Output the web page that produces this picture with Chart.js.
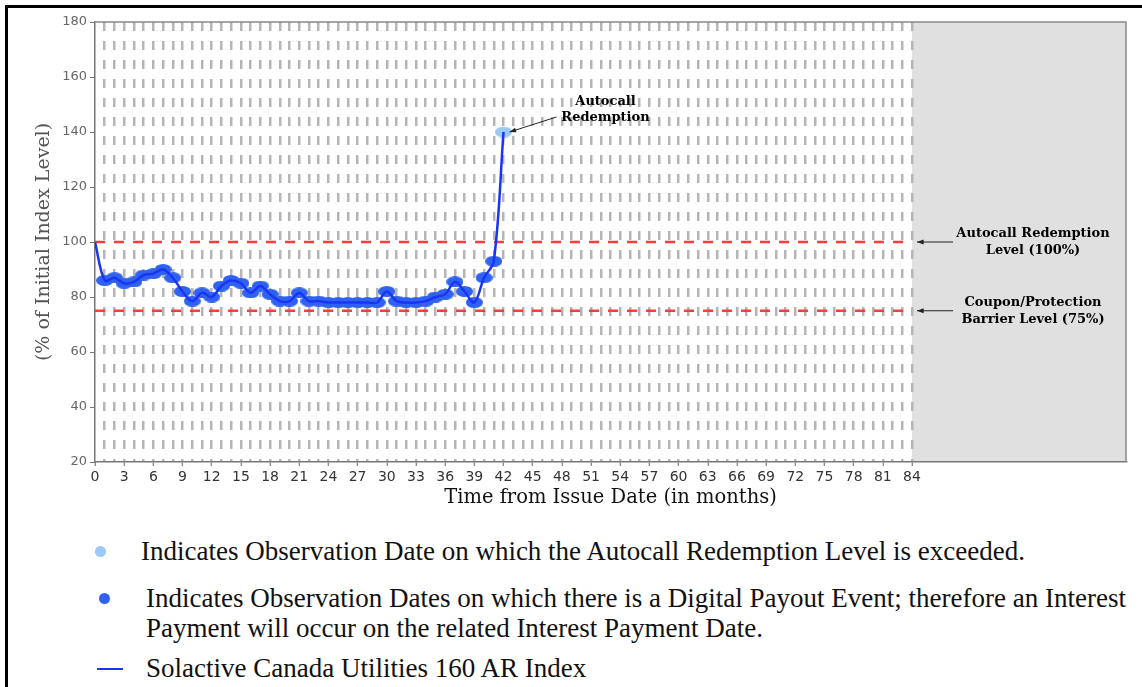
<!DOCTYPE html>
<html>
<head>
<meta charset="utf-8">
<script src="https://cdn.jsdelivr.net/npm/chart.js@4.4.0/dist/chart.umd.min.js"></script>
<style>
    body { margin: 0; background: #fff; width: 1142px; height: 687px; overflow: hidden; position: relative; }
    #frame { position: absolute; left: 5px; top: 5px; right: 0; bottom: 0; border-left: 3px solid #000; border-top: 3px solid #000; }
    #chartBox { position: absolute; left: 0; top: 0; width: 1142px; height: 520px; }
    .legRow { position: absolute; font-family: "Liberation Serif", "Times New Roman", serif; font-size: 27px; color: #111; line-height: 30px; white-space: nowrap; }
    .dot { position: absolute; width: 11px; height: 11px; border-radius: 50%; }
    .seg { position: absolute; width: 26px; height: 2px; background: #1a34f5; }
</style>
</head>
<body>
<div id="frame"></div>
<div id="chartBox"><canvas id="myChart" width="1142" height="520"></canvas></div>

<div class="dot" style="left:95px; top:546px; background:#9cc8f7;"></div>
<div class="legRow" style="left:141px; top:536px;">Indicates Observation Date on which the Autocall Redemption Level is exceeded.</div>
<div class="dot" style="left:99px; top:593px; background:#2f62f0;"></div>
<div class="legRow" style="left:146px; top:583px;">Indicates Observation Dates on which there is a Digital Payout Event; therefore an Interest</div>
<div class="legRow" style="left:146px; top:613px;">Payment will occur on the related Interest Payment Date.</div>
<div class="seg" style="left:97px; top:668px;"></div>
<div class="legRow" style="left:146px; top:653px;">Solactive Canada Utilities 160 AR Index</div>

<script>
// months from issue date and index level (% of initial)
const months = [0, 1, 2, 3, 4, 5, 6, 7, 8, 9, 10, 11, 12, 13, 14, 15, 16, 17, 18, 19, 20,
    21, 22, 23, 24, 25, 26, 27, 28, 29, 30, 31, 32, 33, 34, 35, 36, 37, 38, 39, 40, 41, 42];
const indexLevel = [100, 86, 87, 85, 85.5, 88, 88.5, 90, 87, 82, 78.5, 81.5, 80, 84, 86, 85, 81.5, 84, 81, 78.5, 78.5,
    81.5, 78.5, 78.5, 78, 78, 78, 78, 78, 78, 82, 78.5, 78, 78, 78.5, 80, 81, 85.5, 82, 78, 87, 93, 140];

const autocallMonth = 42;
const termMonths = 84;
const axisMaxMonth = 106;
const autocallLevel = 100;
const barrierLevel = 75;
const yTicks = [20, 40, 60, 80, 100, 120, 140, 160, 180];

const indexName = "Solactive Canada Utilities 160 AR Index";

function ellipse(w, h, color){
    let c = document.createElement("canvas");
    c.width = w;
    c.height = h;
    let cx = c.getContext("2d");
    cx.fillStyle = color;
    cx.beginPath();
    cx.ellipse(w / 2, h / 2, w / 2, h / 2, 0, 0, Math.PI * 2);
    cx.fill();
    return c;
}

const darkDot = ellipse(17, 11, "#2f62f0");
const lightDot = ellipse(17, 11, "#9cc8f7");

function levelLine(level){
    return [{x: 0, y: level}, {x: termMonths, y: level}];
}

function arrow(ctx, x1, y1, x2, y2){
    let ang = Math.atan2(y2 - y1, x2 - x1);
    ctx.beginPath();
    ctx.moveTo(x1, y1);
    ctx.lineTo(x2, y2);
    ctx.stroke();
    ctx.beginPath();
    ctx.moveTo(x2, y2);
    ctx.lineTo(x2 - 7 * Math.cos(ang - 0.35), y2 - 7 * Math.sin(ang - 0.35));
    ctx.lineTo(x2 - 7 * Math.cos(ang + 0.35), y2 - 7 * Math.sin(ang + 0.35));
    ctx.closePath();
    ctx.fill();
}

//gray area after maturity, frame and notes
const notesPlugin = {
    id: "notes",
    beforeDraw(chart){
        const {ctx, chartArea, scales} = chart;
        let x84 = scales.x.getPixelForValue(termMonths);
        ctx.save();
        ctx.fillStyle = "#e0e0e0";
        ctx.fillRect(x84, chartArea.top, chartArea.right - x84, chartArea.bottom - chartArea.top);
        ctx.restore();
    },
    afterDraw(chart){
        const {ctx, chartArea, scales} = chart;
        ctx.save();
        ctx.strokeStyle = "#888";
        ctx.lineWidth = 1.5;
        ctx.beginPath();
        ctx.moveTo(chartArea.left, chartArea.top);
        ctx.lineTo(chartArea.right, chartArea.top);
        ctx.lineTo(chartArea.right, chartArea.bottom);
        ctx.stroke();

        ctx.strokeStyle = "#222";
        ctx.fillStyle = "#222";
        ctx.lineWidth = 1;
        ctx.font = "bold 13px 'DejaVu Serif'";
        ctx.textAlign = "center";
        ctx.textBaseline = "middle";

        let px = scales.x.getPixelForValue(autocallMonth);
        let py = scales.y.getPixelForValue(indexLevel[indexLevel.length - 1]);
        arrow(ctx, px + 53, py - 15, px + 6, py);
        ctx.fillStyle = "#000";
        ctx.fillText("Autocall", px + 102, py - 30);
        ctx.fillText("Redemption", px + 102, py - 14);

        let x84 = scales.x.getPixelForValue(termMonths);
        let yA = scales.y.getPixelForValue(autocallLevel);
        let yB = scales.y.getPixelForValue(barrierLevel);
        ctx.fillStyle = "#222";
        arrow(ctx, x84 + 41, yA, x84 + 5, yA);
        arrow(ctx, x84 + 41, yB, x84 + 5, yB);
        ctx.fillStyle = "#000";
        ctx.fillText("Autocall Redemption", x84 + 121, yA - 8);
        ctx.fillText("Level (100%)", x84 + 121, yA + 9);
        ctx.fillText("Coupon/Protection", x84 + 121, yB - 8);
        ctx.fillText("Barrier Level (75%)", x84 + 121, yB + 9);
        ctx.restore();
    }
};

const points = months.map((m, i) => ({x: m, y: indexLevel[i]}));

const ctx = document.getElementById("myChart").getContext("2d");
const myChart = new Chart(ctx, {
    type: "line",
    data: {
        datasets: [
            {
                label: indexName,
                data: points,
                borderColor: "#1a34f5",
                borderWidth: 2.5,
                tension: 0.35,
                pointRadius: 0,
                fill: false,
                order: 0
            },
            {
                label: "observations",
                data: points,
                showLine: false,
                pointRadius: c => c.dataIndex === 0 ? 0 : 6,
                pointStyle: c => c.dataIndex === months.indexOf(autocallMonth) ? lightDot : darkDot,
                order: 1
            },
            {
                label: "autocall level",
                data: levelLine(autocallLevel),
                borderColor: "#ff3b3b",
                borderWidth: 2.5,
                borderDash: [10, 9],
                pointRadius: 0,
                order: 2
            },
            {
                label: "barrier level",
                data: levelLine(barrierLevel),
                borderColor: "#ff3b3b",
                borderWidth: 2.5,
                borderDash: [10, 9],
                pointRadius: 0,
                order: 3
            }
        ]
    },
    options: {
        responsive: false,
        animation: false,
        events: [],
        layout: { padding: { left: 0, top: 22, right: 16, bottom: 0 } },
        plugins: { legend: { display: false }, tooltip: { enabled: false } },
        scales: {
            x: {
                type: "linear",
                min: 0,
                max: axisMaxMonth,
                afterFit: function(scale){ scale.height = 58; },
                ticks: {
                    stepSize: 1,
                    autoSkip: false,
                    maxRotation: 0,
                    padding: 3,
                    color: "#333",
                    font: { family: "DejaVu Sans", size: 14 },
                    callback: v => (v % 3 === 0 && v <= termMonths) ? String(v) : ""
                },
                grid: {
                    lineWidth: 2.5,
                    color: c => (c.tick && c.tick.value > 0 && c.tick.value <= termMonths) ? "#b5b5b5" : "rgba(0,0,0,0)",
                    tickLength: 4,
                    tickWidth: 1,
                    tickColor: c => (c.tick && c.tick.value % 3 === 0 && c.tick.value <= termMonths) ? "#666" : "rgba(0,0,0,0)"
                },
                border: { color: "#777", width: 1.5, dash: [9, 10] },
                title: {
                    display: true,
                    text: "Time from Issue Date (in months)",
                    color: "#111",
                    font: { family: "DejaVu Serif", size: 19.5 },
                    padding: { top: 0, bottom: 10 }
                }
            },
            y: {
                min: 20,
                max: 180,
                afterFit: function(scale){ scale.width = 95; },
                afterBuildTicks: function(scale){ scale.ticks = yTicks.map(v => ({value: v})); },
                ticks: {
                    padding: 3,
                    color: "#666",
                    font: { family: "DejaVu Sans", size: 13 }
                },
                grid: {
                    drawOnChartArea: false,
                    tickLength: 5,
                    tickColor: "#777"
                },
                border: { color: "#777", width: 1.5 },
                title: {
                    display: true,
                    text: "(% of Initial Index Level)",
                    color: "#555",
                    font: { family: "DejaVu Serif", size: 19 },
                    padding: { top: 33, bottom: 0 }
                }
            }
        }
    },
    plugins: [notesPlugin]
});
</script>
</body>
</html>
